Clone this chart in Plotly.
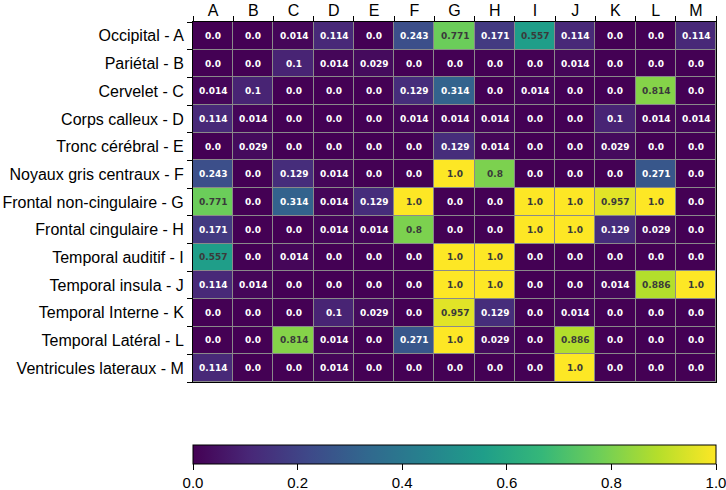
import plotly.graph_objects as go

col_labels = ["A", "B", "C", "D", "E", "F", "G", "H", "I", "J", "K", "L", "M"]
row_labels = [
    "Occipital - A", "Pariétal - B", "Cervelet - C", "Corps calleux - D",
    "Tronc cérébral - E", "Noyaux gris centraux - F", "Frontal non-cingulaire - G",
    "Frontal cingulaire - H", "Temporal auditif - I", "Temporal insula - J",
    "Temporal Interne - K", "Temporal Latéral - L", "Ventricules lateraux - M",
]

row_A = [0.0, 0.0, 0.014, 0.114, 0.0, 0.243, 0.771, 0.171, 0.557, 0.114, 0.0, 0.0, 0.114]
row_B = [0.0, 0.0, 0.1, 0.014, 0.029, 0.0, 0.0, 0.0, 0.0, 0.014, 0.0, 0.0, 0.0]
row_C = [0.014, 0.1, 0.0, 0.0, 0.0, 0.129, 0.314, 0.0, 0.014, 0.0, 0.0, 0.814, 0.0]
row_D = [0.114, 0.014, 0.0, 0.0, 0.0, 0.014, 0.014, 0.014, 0.0, 0.0, 0.1, 0.014, 0.014]
row_E = [0.0, 0.029, 0.0, 0.0, 0.0, 0.0, 0.129, 0.014, 0.0, 0.0, 0.029, 0.0, 0.0]
row_F = [0.243, 0.0, 0.129, 0.014, 0.0, 0.0, 1.0, 0.8, 0.0, 0.0, 0.0, 0.271, 0.0]
row_G = [0.771, 0.0, 0.314, 0.014, 0.129, 1.0, 0.0, 0.0, 1.0, 1.0, 0.957, 1.0, 0.0]
row_H = [0.171, 0.0, 0.0, 0.014, 0.014, 0.8, 0.0, 0.0, 1.0, 1.0, 0.129, 0.029, 0.0]
row_I = [0.557, 0.0, 0.014, 0.0, 0.0, 0.0, 1.0, 1.0, 0.0, 0.0, 0.0, 0.0, 0.0]
row_J = [0.114, 0.014, 0.0, 0.0, 0.0, 0.0, 1.0, 1.0, 0.0, 0.0, 0.014, 0.886, 1.0]
row_K = [0.0, 0.0, 0.0, 0.1, 0.029, 0.0, 0.957, 0.129, 0.0, 0.014, 0.0, 0.0, 0.0]
row_L = [0.0, 0.0, 0.814, 0.014, 0.0, 0.271, 1.0, 0.029, 0.0, 0.886, 0.0, 0.0, 0.0]
row_M = [0.114, 0.0, 0.0, 0.014, 0.0, 0.0, 0.0, 0.0, 0.0, 1.0, 0.0, 0.0, 0.0]

z = [row_A, row_B, row_C, row_D, row_E, row_F, row_G, row_H, row_I, row_J, row_K, row_L, row_M]
cb_ticks = [0.0, 0.2, 0.4, 0.6, 0.8, 1.0]

xs = list(range(len(col_labels)))
ys = list(range(len(row_labels)))

fig = go.Figure()
fig.add_trace(go.Heatmap(
    z=z, x=xs, y=ys,
    colorscale="Viridis", zmin=0, zmax=1,
    xgap=1, ygap=1,
    colorbar=dict(
        orientation="h",
        x=0, xanchor="left",
        y=-0.175, yanchor="top",
        len=1, lenmode="fraction",
        thickness=19,
        xpad=0, ypad=0,
        outlinewidth=1, outlinecolor="black",
        ticks="outside", ticklen=6, tickcolor="black",
        tickvals=cb_ticks,
        ticktext=[f"{v:.1f}" for v in cb_ticks],
        ticklabeloverflow="allow",
        tickfont=dict(family="Liberation Sans", size=15, color="black"),
    ),
))

annotations = []
for i, row in enumerate(z):
    for j, v in enumerate(row):
        annotations.append(dict(
            x=xs[j], y=ys[i], text=f"<b>{v}</b>", showarrow=False,
            font=dict(family="DejaVu Sans", size=9,
                      color="#3a3a3a" if v >= 0.5 else "white"),
            xref="x", yref="y",
        ))

fig.update_layout(
    width=726, height=490,
    margin=dict(l=193, r=10, t=22, b=108, autoexpand=False),
    plot_bgcolor="#8a8a8a",
    paper_bgcolor="white",
    font=dict(family="Liberation Sans", size=15, color="black"),
    annotations=annotations,
    showlegend=False,
)
boundaries = [k - 0.5 for k in range(len(col_labels) + 1)]
fig.update_xaxes(
    side="top", range=[-0.5, len(col_labels) - 0.5], automargin=False,
    tickmode="array", tickvals=xs, ticktext=col_labels, ticks="",
    tickfont=dict(family="Liberation Sans", size=16, color="black"),
    showgrid=False, zeroline=False,
    showline=True, linecolor="black", linewidth=1, mirror=True,
    minor=dict(tickmode="array", tickvals=boundaries, ticks="outside",
               ticklen=5, tickcolor="black", showgrid=False),
    ticklabelstandoff=-1,
)
fig.update_yaxes(
    range=[len(row_labels) - 0.5, -0.5], automargin=False,
    tickmode="array", tickvals=ys, ticktext=row_labels, ticks="",
    tickfont=dict(family="Liberation Sans", size=16, color="black"),
    showgrid=False, zeroline=False,
    showline=True, linecolor="black", linewidth=1, mirror=True,
    minor=dict(tickmode="array", tickvals=[k - 0.5 for k in range(len(row_labels) + 1)],
               ticks="outside", ticklen=5, tickcolor="black", showgrid=False),
    ticklabelstandoff=5,
)

fig.write_html(
    "out.html",
    config={"displayModeBar": False},
    post_script="document.body.style.margin='0px';document.body.style.overflow='hidden';",
)
